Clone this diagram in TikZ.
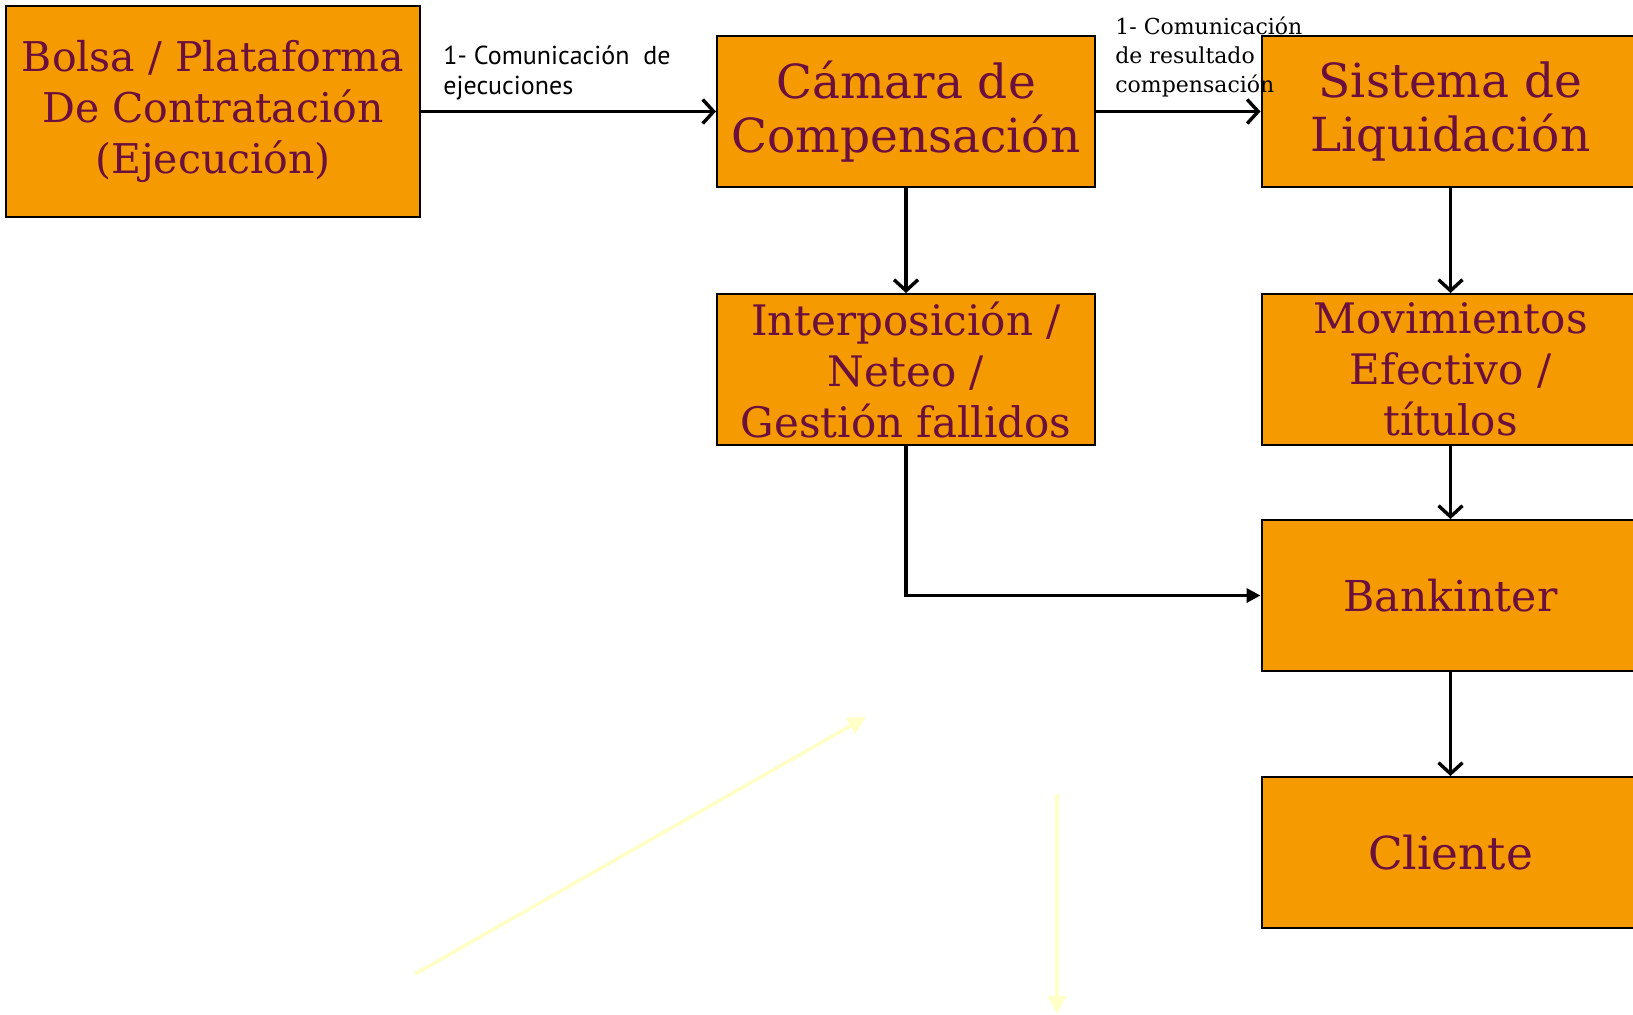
\documentclass[tikz,border=0pt]{standalone}
\usepackage{fontspec}
\setmainfont{DejaVu Serif}
\newfontfamily\labelfont{PT Sans}
\usetikzlibrary{arrows.meta}
\definecolor{boxfill}{HTML}{F59A00}
\definecolor{boxtext}{HTML}{6A0F3E}
\definecolor{paleyellow}{HTML}{FFFFC8}
\tikzset{
  flowbox/.style={draw=black,line width=1pt,fill=boxfill,text=boxtext,
    minimum width=189pt,minimum height=75.5pt,inner sep=0pt,align=center,
    font=\fontsize{21}{25.5}\selectfont},
  flowarrow/.style={line width=1.7pt,-{Straight Barb[length=5.5pt,width=12pt,line width=1.7pt]}},
  flowlabel/.style={anchor=west,align=left,inner sep=0pt},
  ghostarrow/.style={draw=paleyellow,line width=1.8pt,-{Triangle[length=9pt,width=9pt]}}
}
\begin{document}
\begin{tikzpicture}[x=0.5pt,y=-0.5pt]
\clip (0,0) rectangle (1633,1014);
{

% Drawing box Bolsa
\node [flowbox,minimum width=207pt,minimum height=105.5pt,font=\fontsize{20.5}{25.5}\selectfont] (bolsa) at (213,111.5) {Bolsa / Plataforma\\De Contrataci\'on\\(Ejecuci\'on)};

% Drawing box Camara
\node [flowbox,font=\fontsize{23.5}{27}\selectfont] (camara) at (906,111.5) {C\'amara de\\Compensaci\'on};

% Drawing box Sistema
\node [flowbox,font=\fontsize{23.5}{27}\selectfont] (sistema) at (1450.5,111.5) {Sistema de\\Liquidaci\'on};

% Drawing box Interposicion
\node [flowbox] (interp) at (906,369.5) {Interposici\'on /\\Neteo /\\Gesti\'on fallidos};

% Drawing box Movimientos
\node [flowbox] (movim) at (1450.5,369.5) {Movimientos\\Efectivo /\\t\'itulos};

% Drawing box Bankinter
\node [flowbox,font=\fontsize{21.3}{25.5}\selectfont] (bank) at (1450.5,595.5) {Bankinter};

% Drawing box Cliente
\node [flowbox,font=\fontsize{22.7}{27}\selectfont] (cliente) at (1450.5,852.5) {Cliente};

% Drawing arrows between boxes
\draw [flowarrow] (bolsa.east) -- (camara.west);
\draw [flowarrow] (camara.east) -- (sistema.west);
\draw [flowarrow] (camara.south) -- (interp.north);
\draw [flowarrow] (sistema.south) -- (movim.north);
\draw [flowarrow] (movim.south) -- (bank.north);
\draw [flowarrow] (bank.south) -- (cliente.north);
\draw [line width=1.7pt,-{Triangle[length=7pt,width=7pt]}] (interp.south) |- (bank.west);

% Marking arrow labels
\node [flowlabel,font=\labelfont\fontsize{13}{15}\selectfont] (lblexec) at (443,73) {1- Comunicaci\'on\ \ de\\ejecuciones};
\node [flowlabel,font=\fontsize{11}{14.5}\selectfont] (lblresult) at (1115,57) {1- Comunicaci\'on\\de resultado\\compensaci\'on};

% Drawing pale arrows
\coordinate (ghostA) at (415,974);
\coordinate (ghostB) at (866,717);
\coordinate (ghostC) at (1057,794);
\coordinate (ghostD) at (1057,1014);
\draw [ghostarrow] (ghostA) -- (ghostB);
\draw [ghostarrow] (ghostC) -- (ghostD);
}
\end{tikzpicture}
\end{document}
